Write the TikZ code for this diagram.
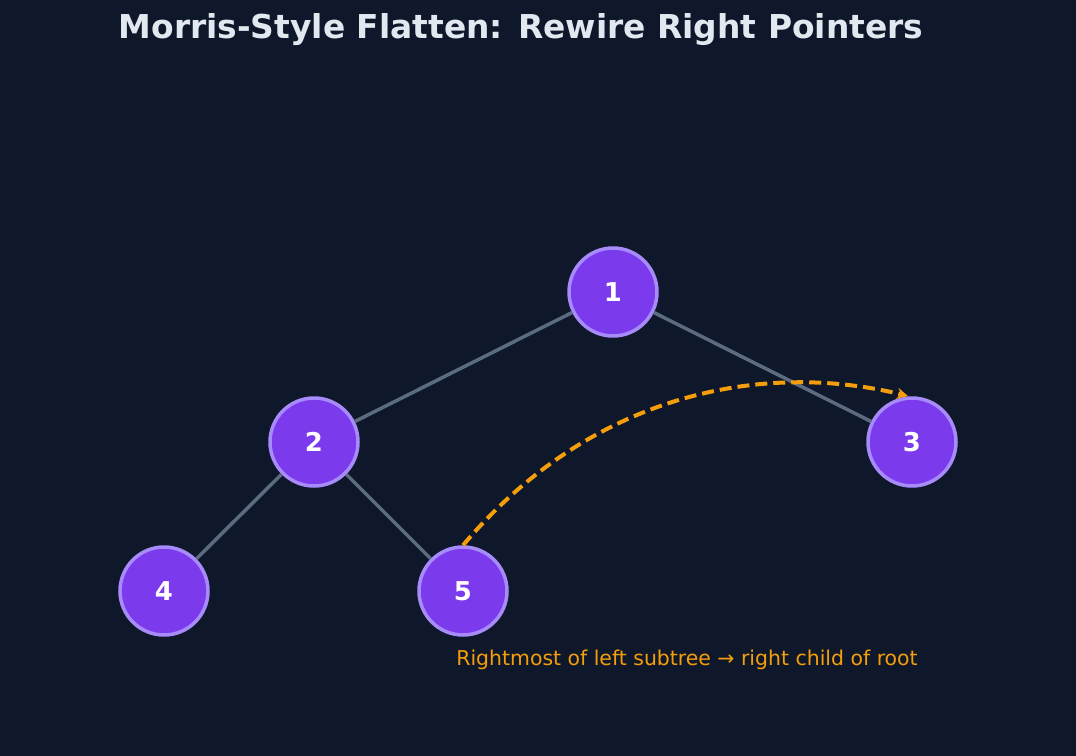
\documentclass[tikz,border=0pt]{standalone}
\usepackage{fontspec}
\setmainfont{DejaVu Sans}
\usetikzlibrary{arrows.meta}
\definecolor{bg}{HTML}{0F172A}
\definecolor{nodefill}{HTML}{7C3AED}
\definecolor{nodeline}{HTML}{A78BFA}
\definecolor{edgec}{HTML}{5B6B80}
\definecolor{orangec}{HTML}{F59E0B}
\definecolor{titlec}{HTML}{E2E8F0}
\begin{document}
\begin{tikzpicture}[x=1bp,y=-1bp,
  tnode/.style={circle,minimum size=88bp,inner sep=0pt,fill=nodefill,draw=nodeline,line width=3.5bp,text=white,font=\bfseries\fontsize{26}{30}\selectfont},
  edge/.style={draw=edgec,line width=3.5bp}]
\fill[bg] (0,0) rectangle (1076,756);
\useasboundingbox (0,0) rectangle (1076,756);
\node[text=titlec,font=\bfseries\fontsize{33}{38}\selectfont] (title) at (521,30) {Morris-Style Flatten: Rewire Right Pointers};
\node[tnode] (n1) at (613,292) {1};
\node[tnode] (n2) at (314,442) {2};
\node[tnode] (n3) at (912,442) {3};
\node[tnode] (n4) at (164,591) {4};
\node[tnode] (n5) at (463,591) {5};
\draw[edge] (n1) -- (n2);
\draw[edge] (n1) -- (n3);
\draw[edge] (n2) -- (n4);
\draw[edge] (n2) -- (n5);
\draw[orangec,line width=4bp,dash pattern=on 12bp off 6bp,-{Stealth[length=11bp,width=11bp]}]
  (n5.north) .. controls (590,395) and (760,360) .. (908,396);
\node[text=orangec,font=\fontsize{20.5}{24}\selectfont] (lbl) at (687,660) {Rightmost of left subtree → right child of root};
\end{tikzpicture}
\end{document}
